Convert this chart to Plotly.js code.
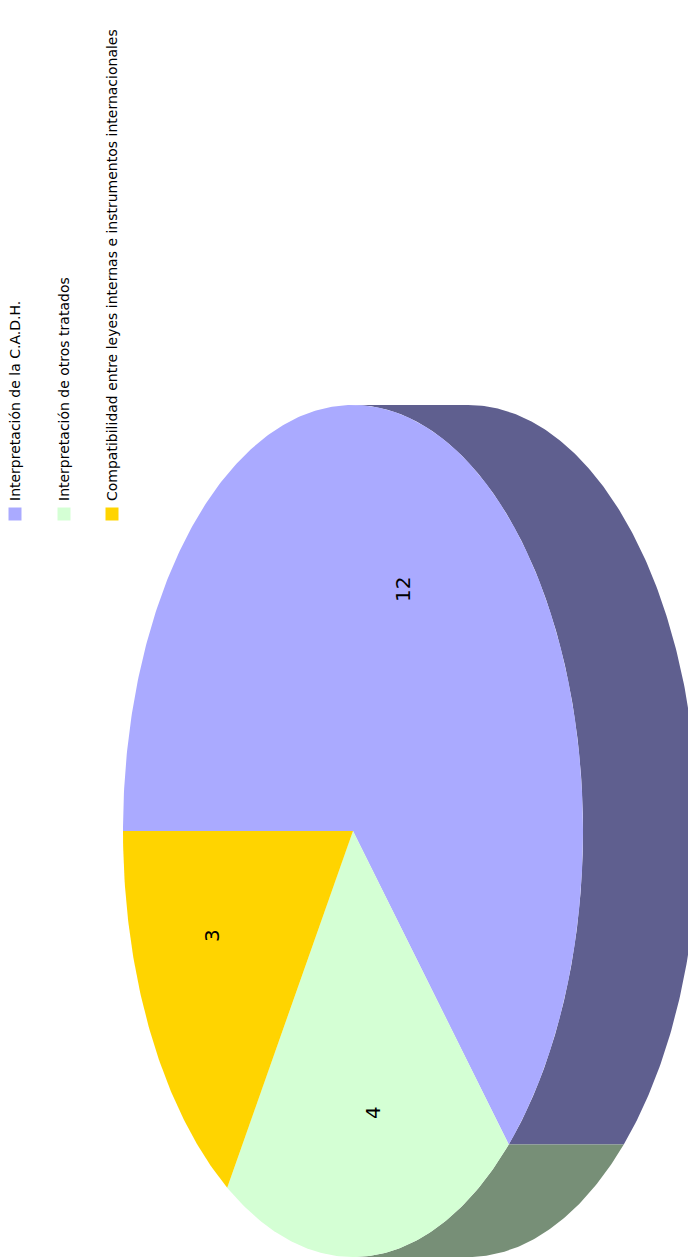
<!DOCTYPE html>
<html>
<head>
<meta charset="utf-8">
<script src="https://cdn.plot.ly/plotly-3.0.1.min.js"></script>
<style>
html, body { margin: 0; padding: 0; background: #fff; }
#chart { width: 688px; height: 1257px; }
</style>
</head>
<body>
<div id="chart"></div>
<script>
// Data
const categories = ['Interpretación de la C.A.D.H.', 'Interpretación de otros tratados', 'Compatibilidad entre leyes internas e instrumentos internacionales'];
const values = [12, 4, 3];
const topColors = ['#aaaaff', '#d4ffd4', '#ffd400'];
const sideColors = ['#5f5f8f', '#778f77', '#8f7700'];

// Chart geometry, axes run in page pixels
const W = 688, H = 1257;
const cx = 353, cy = 831, rx = 230, ry = 426;
const depth = 115;
const FONT = 'DejaVu Sans, sans-serif';

// Slices start at the left edge and go clockwise on screen
const total = values.reduce((a, b) => a + b, 0);
function ellipsePoint(t, dx) {
    return [cx + dx - rx * Math.cos(t), cy - ry * Math.sin(t)];
}

function arc(t0, t1, dx) {
    const pts = [];
    const n = Math.max(2, Math.ceil((t1 - t0) / 0.01));
    for (let i = 0; i <= n; i++) {
        pts.push(ellipsePoint(t0 + (t1 - t0) * i / n, dx));
    }
    return pts;
}

function polyTrace(pts, color) {
    return {
        x: pts.map(p => p[0]),
        y: pts.map(p => p[1]),
        mode: 'lines',
        fill: 'toself',
        fillcolor: color,
        line: { width: 0, color: color },
        hoverinfo: 'skip',
        showlegend: false
    };
}

const sideTraces = [];
const topTraces = [];
let start = 0;
values.forEach((v, i) => {
    const end = start + v / total * 2 * Math.PI;
    // side wall is only visible on the right half of the ellipse
    const a = Math.max(start, Math.PI / 2);
    const b = Math.min(end, 3 * Math.PI / 2);
    if (b > a) {
        const outer = arc(a, b, depth);
        const inner = arc(a, b, 0).reverse();
        sideTraces.push(polyTrace(outer.concat(inner), sideColors[i]));
    }
    topTraces.push(polyTrace([[cx, cy]].concat(arc(start, end, 0)), topColors[i]));
    start = end;
});

// Legend swatches
const legendX = [15, 64, 112];
const legendBottom = 520;
const swatch = {
    x: legendX,
    y: legendX.map(() => legendBottom - 6),
    mode: 'markers',
    marker: { symbol: 'square', size: 13, color: topColors, line: { width: 0 } },
    hoverinfo: 'skip',
    showlegend: false
};

const legendNotes = categories.map((c, i) => ({
    text: c,
    x: legendX[i],
    y: 503,
    xref: 'x', yref: 'y',
    xanchor: 'center',
    yanchor: 'bottom',
    textangle: -90,
    showarrow: false,
    font: { family: FONT, size: 14, color: '#000' }
}));

// Value labels
const labelX = [403, 373, 212];
const labelY = [590, 1113, 936];
const valueNotes = values.map((v, i) => ({
    text: String(v),
    x: labelX[i],
    y: labelY[i],
    xref: 'x', yref: 'y',
    textangle: -90,
    showarrow: false,
    font: { family: FONT, size: 20, color: '#000' }
}));

const layout = {
    width: W,
    height: H,
    margin: { t: 0, r: 0, b: 0, l: 0 },
    paper_bgcolor: '#fff',
    plot_bgcolor: '#fff',
    showlegend: false,
    xaxis: { range: [0, W], visible: false, fixedrange: true },
    yaxis: { range: [H, 0], visible: false, fixedrange: true },
    annotations: legendNotes.concat(valueNotes)
};

Plotly.newPlot('chart', sideTraces.concat(topTraces, [swatch]), layout, { displayModeBar: false, staticPlot: true });
</script>
</body>
</html>
